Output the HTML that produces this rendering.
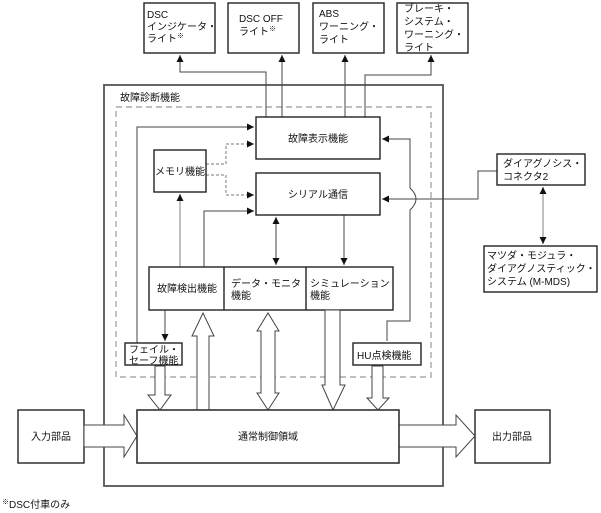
<!DOCTYPE html>
<html><head><meta charset="utf-8"><style>
html,body{margin:0;padding:0;background:#fff}
svg{display:block}
text{font-family:"Liberation Sans","Noto Sans CJK JP",sans-serif;font-size:10px;fill:#111}
</style></head><body>
<svg width="601" height="513" viewBox="0 0 601 513" xmlns="http://www.w3.org/2000/svg">
<defs>
<marker id="a" viewBox="0 0 10 10" refX="10" refY="5" markerWidth="7" markerHeight="7" orient="auto-start-reverse" markerUnits="userSpaceOnUse"><path d="M0,0 L10,5 L0,10 z" fill="#111"/></marker>
</defs>
<g fill="#fff" stroke="#222" stroke-width="1.4">
<!-- top boxes -->
<rect x="144" y="3" width="71" height="50"/>
<rect x="228" y="3" width="71" height="50"/>
<rect x="313" y="3" width="71" height="50"/>
<rect x="397" y="3" width="71" height="50"/>
<!-- outer -->
<rect x="104" y="85" width="339" height="401" stroke="#555" stroke-width="1.8"/>
</g>
<rect x="116" y="107" width="315" height="270" fill="none" stroke="#999" stroke-width="1.2" stroke-dasharray="6,4"/>
<text x="120" y="101">故障診断機能</text>

<!-- lines top -->
<g fill="none" stroke="#444" stroke-width="1">
<polyline points="266,117 266,72 180,72 180,55" marker-end="url(#a)"/>
<line x1="282" y1="117" x2="282" y2="55" marker-end="url(#a)"/>
<line x1="345" y1="117" x2="345" y2="55" marker-end="url(#a)"/>
<polyline points="365,117 365,75 431,75 431,55" marker-end="url(#a)"/>
<!-- left loop -->
<polyline points="137,343 137,127 254,127" marker-end="url(#a)"/>
<polyline points="204,267 204,211 254,211" marker-end="url(#a)"/>
<line x1="276" y1="217" x2="276" y2="265" marker-start="url(#a)" marker-end="url(#a)"/>
<polyline points="344,215 344,265" marker-end="url(#a)"/>
<line x1="165" y1="310" x2="165" y2="341" marker-end="url(#a)"/>
<!-- right loop with hump -->
<path d="M387,341 L387,321 L410,321 L410,210 Q422,199 410,188 L410,139 L382,139" marker-end="url(#a)"/>
<polyline points="497,171 478,171 478,199 382,199" marker-end="url(#a)"/>
</g>
<line x1="180" y1="267" x2="180" y2="194" stroke="#aaa" stroke-width="1.5" marker-end="url(#a)"/>
<line x1="543" y1="187" x2="543" y2="244" stroke="#aaa" stroke-width="1.5" marker-start="url(#a)" marker-end="url(#a)"/>
<g fill="none" stroke="#777" stroke-width="1" stroke-dasharray="3,2">
<polyline points="206,164 226,164 226,144 254,144" marker-end="url(#a)"/>
<polyline points="206,175 226,175 226,195 254,195" marker-end="url(#a)"/>
</g>

<g fill="#fff" stroke="#222" stroke-width="1.4">
<rect x="256" y="117" width="124" height="42"/>
<rect x="256" y="173" width="124" height="42"/>
<rect x="154" y="150" width="52" height="42"/>
<rect x="149" y="267" width="244" height="43"/>
<line x1="224" y1="267" x2="224" y2="310"/>
<line x1="306" y1="267" x2="306" y2="310"/>
<rect x="125" y="343" width="57" height="22"/>
<rect x="353" y="343" width="68" height="22"/>
<rect x="497" y="154" width="88" height="31"/>
<rect x="484" y="246" width="113" height="46"/>
<rect x="18" y="410" width="66" height="53"/>
<rect x="475" y="410" width="75" height="53"/>
</g>

<!-- hollow arrows -->
<g fill="#fff" stroke="#444" stroke-width="1">
<path d="M84,425 L124,425 L124,415 L137,436 L124,457 L124,447 L84,447 Z"/>
<path d="M399,425 L456,425 L456,415 L475,436 L456,457 L456,447 L399,447 Z"/>
<path d="M155,366 L165,366 L165,395 L171,395 L160,410 L148,395 L155,395 Z"/>
<path d="M197,410 L197,336 L192,336 L203,313 L214,336 L209,336 L209,410 Z"/>
<path d="M261,331 L257,331 L268,313 L279,331 L275,331 L275,393 L279,393 L268,410 L257,393 L261,393 Z"/>
<path d="M325,310 L340,310 L340,385 L345,385 L333,410 L322,385 L325,385 Z"/>
<path d="M372,366 L383,366 L383,398 L389,398 L378,410 L367,398 L372,398 Z"/>
</g>
<rect x="137" y="410" width="262" height="53" fill="#fff" stroke="#333" stroke-width="1.6"/>

<!-- texts -->
<text x="147" y="18">DSC</text>
<text x="147" y="30">インジケータ・</text>
<text x="147" y="42">ライト<tspan font-size="7" dy="-4">※</tspan></text>
<text x="239" y="22">DSC OFF</text>
<text x="239" y="35">ライト<tspan font-size="7" dy="-4">※</tspan></text>
<text x="319" y="17">ABS</text>
<text x="319" y="30">ワーニング・</text>
<text x="319" y="43">ライト</text>
<text x="404" y="12">ブレーキ・</text>
<text x="404" y="25">システム・</text>
<text x="404" y="38">ワーニング・</text>
<text x="404" y="51">ライト</text>
<text x="318" y="142" text-anchor="middle">故障表示機能</text>
<text x="318" y="198" text-anchor="middle">シリアル通信</text>
<text x="180" y="175" text-anchor="middle">メモリ機能</text>
<text x="157" y="292">故障検出機能</text>
<text x="231" y="287">データ・モニタ</text>
<text x="231" y="299">機能</text>
<text x="310" y="287">シミュレーション</text>
<text x="310" y="299">機能</text>
<text x="129" y="353">フェイル・</text>
<text x="129" y="364">セーフ機能</text>
<text x="357" y="359">HU点検機能</text>
<text x="503" y="167">ダイアグノシス・</text>
<text x="503" y="180">コネクタ2</text>
<text x="487" y="259">マツダ・モジュラ・</text>
<text x="487" y="272">ダイアグノスティック・</text>
<text x="487" y="285">システム (M-MDS)</text>
<text x="51" y="440" text-anchor="middle">入力部品</text>
<text x="268" y="440" text-anchor="middle">通常制御領域</text>
<text x="512" y="440" text-anchor="middle">出力部品</text>
<text x="2" y="508"><tspan font-size="7" dy="-4">※</tspan><tspan dy="4">DSC付車のみ</tspan></text>
</svg>
</body></html>
